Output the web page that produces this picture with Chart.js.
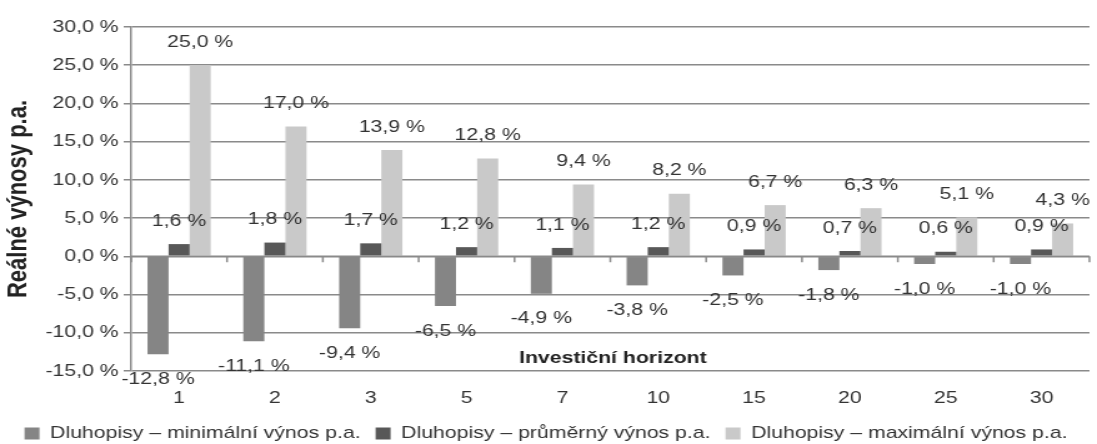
<!DOCTYPE html>
<html>
<head>
<meta charset="utf-8">
<script src="https://cdn.jsdelivr.net/npm/chart.js@4"></script>
<style>
  html, body { margin:0; padding:0; background:#fff; overflow:hidden; }
  /* the source picture is stretched horizontally, so draw narrower and stretch */
  #wrap { width:878px; height:444px; position:relative; transform:scaleX(1.2494); transform-origin:0 0; }
</style>
</head>
<body>
<div id="wrap"><canvas id="chart"></canvas></div>
<script>
const horizons = ['1', '2', '3', '5', '7', '10', '15', '20', '25', '30'];
const minReturns = [-12.8, -11.1, -9.4, -6.5, -4.9, -3.8, -2.5, -1.8, -1.0, -1.0];
const avgReturns = [1.6, 1.8, 1.7, 1.2, 1.1, 1.2, 0.9, 0.7, 0.6, 0.9];
const maxReturns = [25.0, 17.0, 13.9, 12.8, 9.4, 8.2, 6.7, 6.3, 5.1, 4.3];
const seriesNames = [
    'Dluhopisy – minimální výnos p.a.',
    'Dluhopisy – průměrný výnos p.a.',
    'Dluhopisy – maximální výnos p.a.'
];
const yTicks = [-15, -10, -5, 0, 5, 10, 15, 20, 25, 30];

const FONT = 'Arial, "Liberation Sans", sans-serif';
const fmt = v => v.toFixed(1).replace('.', ',') + ' %';

// keep the legend row short while leaving room between its items
const legendFit = {
    id: 'legendFit',
    beforeInit(chart) {
        const fit = chart.legend.fit;
        chart.legend.fit = function () {
            fit.call(this);
            this.height = 31;
        };
    }
};

// data labels + zero-line ticks + inner x-axis title
const extras = {
    id: 'extras',
    afterDatasetsDraw(chart) {
        const ctx = chart.ctx;
        const y = chart.scales.y, x = chart.scales.x;
        const area = chart.chartArea;
        const zero = y.getPixelForValue(0);

        ctx.save();
        ctx.strokeStyle = '#8a8a8a';
        ctx.lineWidth = 1.5;
        ctx.beginPath();
        ctx.moveTo(area.left, zero);
        ctx.lineTo(area.right, zero);
        const step = (area.right - area.left) / horizons.length;
        for (let i = 0; i <= horizons.length; i++) {
            const px = area.left + i * step;
            ctx.moveTo(px, zero);
            ctx.lineTo(px, zero + 6);
        }
        ctx.stroke();

        ctx.font = '17px ' + FONT;
        ctx.fillStyle = '#333';
        ctx.textAlign = 'center';
        ctx.textBaseline = 'middle';
        chart.data.datasets.forEach((ds, di) => {
            chart.getDatasetMeta(di).data.forEach((bar, i) => {
                const v = ds.data[i];
                const ly = v < 0 ? bar.y + 25 : bar.y - 23;
                ctx.fillText(fmt(v), bar.x, ly);
            });
        });

        ctx.font = 'bold 17px ' + FONT;
        ctx.fillStyle = '#222';
        ctx.fillText('Investiční horizont', (x.getPixelForValue(4) + x.getPixelForValue(5)) / 2 + 2, y.getPixelForValue(-13.3));
        ctx.restore();
    }
};

new Chart(document.getElementById('chart'), {
    type: 'bar',
    data: {
        labels: horizons,
        datasets: [
            { label: seriesNames[0], data: minReturns, backgroundColor: '#858585' },
            { label: seriesNames[1], data: avgReturns, backgroundColor: '#585858' },
            { label: seriesNames[2], data: maxReturns, backgroundColor: '#c9c9c9' }
        ]
    },
    options: {
        responsive: true,
        maintainAspectRatio: false,
        animation: false,
        datasets: { bar: { categoryPercentage: 0.66, barPercentage: 1.0 } },
        layout: { padding: { top: 27, right: 6, left: 2, bottom: 0 } },
        plugins: {
            legend: {
                position: 'bottom',
                labels: {
                    font: { family: FONT, size: 17 },
                    color: '#333',
                    boxWidth: 12,
                    boxHeight: 12,
                    padding: 12
                }
            },
            tooltip: { enabled: false }
        },
        scales: {
            x: {
                grid: { display: false },
                border: { display: false },
                ticks: { font: { family: FONT, size: 17 }, color: '#333', padding: 9 },
                afterFit: axis => { axis.height = 42; }
            },
            y: {
                min: -15,
                max: 30,
                afterBuildTicks: axis => { axis.ticks = yTicks.map(v => ({ value: v })); },
                grid: { color: '#8a8a8a', lineWidth: 1.5, tickLength: 6 },
                border: { color: '#8a8a8a', width: 1.5 },
                ticks: {
                    font: { family: FONT, size: 17 },
                    color: '#333',
                    padding: 4,
                    callback: v => fmt(v)
                },
                title: {
                    display: true,
                    text: 'Reálné výnosy p.a.',
                    font: { family: FONT, size: 22, weight: 'bold' },
                    color: '#222',
                    padding: { top: 0, bottom: 4 }
                }
            }
        }
    },
    plugins: [legendFit, extras]
});
</script>
</body>
</html>
